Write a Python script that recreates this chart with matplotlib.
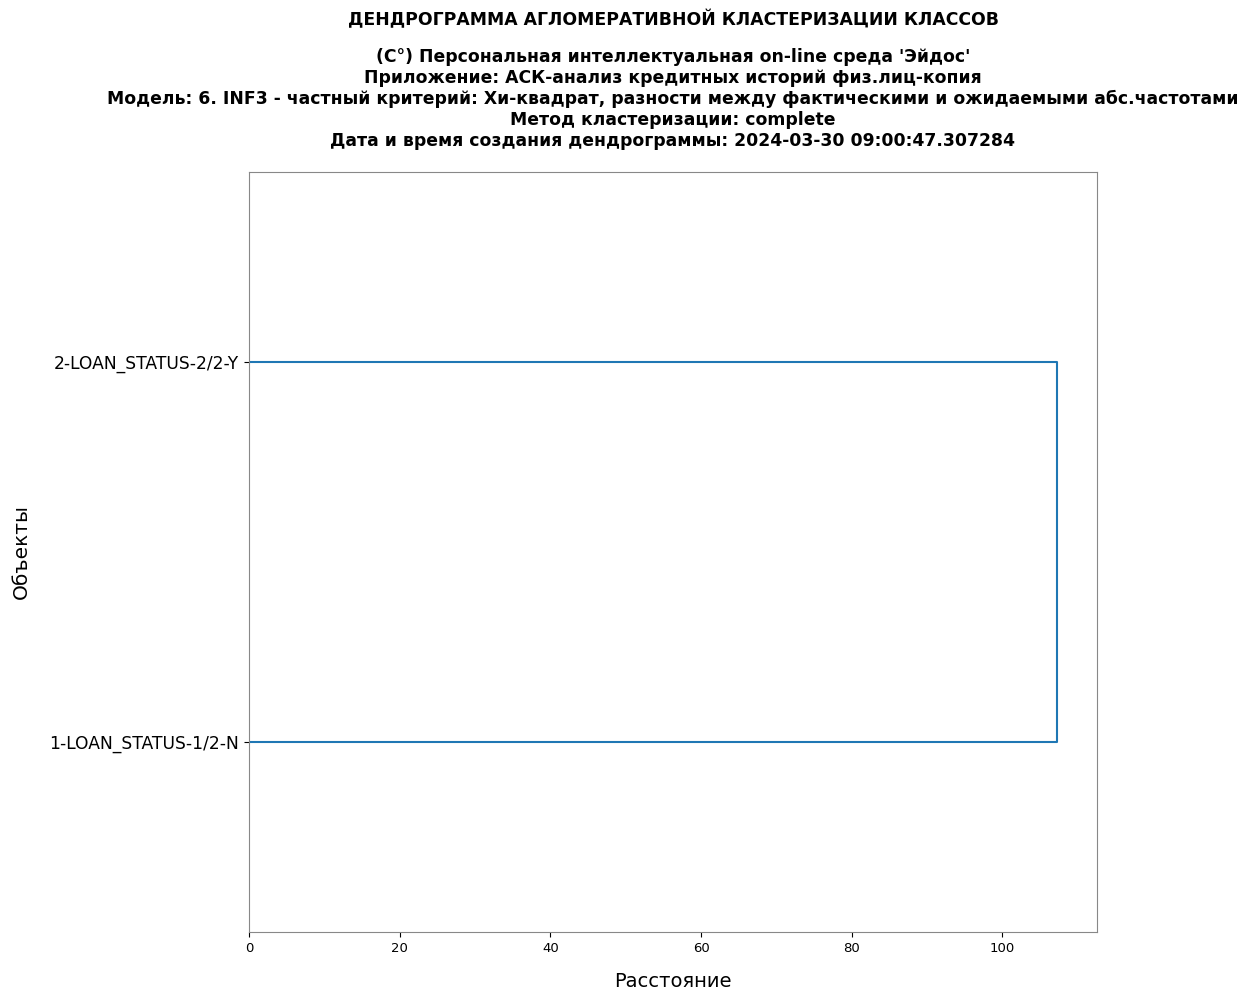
import matplotlib
matplotlib.use('Agg')
import matplotlib.pyplot as plt

# Leaves (bottom to top) and the merge distance.
labels = ['1-LOAN_STATUS-1/2-N', '2-LOAN_STATUS-2/2-Y']
merge_distance = 107.2

title = 'ДЕНДРОГРАММА АГЛОМЕРАТИВНОЙ КЛАСТЕРИЗАЦИИ КЛАССОВ'
subtitle = ("(C°) Персональная интеллектуальная on-line среда 'Эйдос'\n"
            "Приложение: АСК-анализ кредитных историй физ.лиц-копия\n"
            "Модель: 6. INF3 - частный критерий: Хи-квадрат, разности между "
            "фактическими и ожидаемыми абс.частотами\n"
            "Метод кластеризации: complete\n"
            "Дата и время создания дендрограммы: 2024-03-30 09:00:47.307284")

fig = plt.figure(figsize=(12.59, 9.94), dpi=100)
ax = fig.add_axes([249 / 1259, 1 - 932 / 994, 848 / 1259, 760 / 994])

# scipy-style leaf positions: 5, 15, ...
ypos = [5 + 10 * i for i in range(len(labels))]
ax.plot([0, merge_distance, merge_distance, 0],
        [ypos[0], ypos[0], ypos[1], ypos[1]], color='#1f77b4', lw=1.5)

ax.set_xlim(0, merge_distance * 1.05)
ax.set_ylim(0, 10 * len(labels))
ax.set_yticks(ypos)
ax.set_yticklabels(labels, fontsize=12.3)
ax.tick_params(axis='x', labelsize=9.5)
for s in ax.spines.values():
    s.set_color('#888888')

ax.set_xlabel('Расстояние', fontsize=14, labelpad=12.5)
ax.set_ylabel('Объекты', fontsize=14.5, labelpad=13.5)

xc = 673 / 1259
fig.text(xc, 1 - 20 / 994, title, ha='center', va='center',
         fontsize=12.4, fontweight='bold')
fig.text(xc, 1 - 99 / 994, subtitle, ha='center', va='center',
         fontsize=12.4, fontweight='bold', linespacing=1.2)

fig.savefig('out.png', dpi=100)
